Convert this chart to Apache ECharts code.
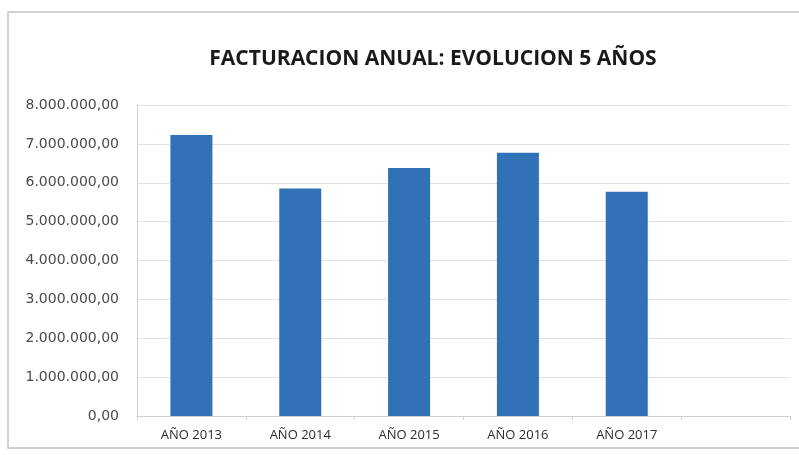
<!DOCTYPE html>
<html>
<head>
<meta charset="utf-8">
<title>Facturacion anual</title>
<script src="https://cdn.jsdelivr.net/npm/echarts@6/dist/echarts.min.js"></script>
<style>
  html, body { margin: 0; padding: 0; background: #fff; }
  #chart { width: 799px; height: 455px; }
</style>
</head>
<body>
<div id="chart"></div>
<script>
// datos
var categorias = ['AÑO 2013', 'AÑO 2014', 'AÑO 2015', 'AÑO 2016', 'AÑO 2017']
var facturacion = [7230000, 5850000, 6380000, 6770000, 5770000]

// 8000000 -> 8.000.000,00
function formato (v) {
  var partes = Math.round(v).toString().replace(/\B(?=(\d{3})+(?!\d))/g, '.')
  return partes + ',00'
}

var myChart = echarts.init(document.getElementById('chart'))
myChart.setOption({
  backgroundColor: '#fff',
  animation: false,
  title: {
    text: 'FACTURACION ANUAL: EVOLUCION 5 AÑOS',
    left: 428,
    top: 44,
    textAlign: 'center',
    textStyle: {
      fontFamily: 'Open Sans',
      fontWeight: 'bold',
      fontSize: 21,
      color: '#1a1a1a'
    }
  },
  graphic: [{
    type: 'rect',
    shape: { x: 8, y: 12, width: 820, height: 436 },
    style: { fill: 'none', stroke: '#c4c4c4', lineWidth: 1.5 },
    silent: true
  }],
  grid: {
    left: 137,
    right: 9,
    top: 105,
    bottom: 39
  },
  xAxis: {
    type: 'category',
    data: categorias,
    max: 5,
    axisLine: { show: true, lineStyle: { color: '#d0d0d0' } },
    axisTick: { show: true, length: 4, lineStyle: { color: '#d0d0d0' } },
    axisLabel: {
      color: '#2b2b2b',
      fontFamily: 'Open Sans',
      fontSize: 13,
      margin: 13,
      formatter: function (v) { return v || '' }
    },
    splitLine: { show: false }
  },
  yAxis: {
    type: 'value',
    min: 0,
    max: 8000000,
    interval: 1000000,
    axisLine: { show: true, lineStyle: { color: '#d0d0d0' } },
    axisTick: { show: false },
    axisLabel: {
      color: '#4a4a4a',
      fontFamily: 'DejaVu Sans',
      fontSize: 14,
      margin: 18,
      formatter: formato
    },
    splitLine: { show: true, lineStyle: { color: '#e2e2e2' } }
  },
  series: [{
    name: 'Facturacion',
    type: 'bar',
    data: facturacion,
    barWidth: 42,
    itemStyle: { color: '#3071b8' }
  }]
})
</script>
</body>
</html>
